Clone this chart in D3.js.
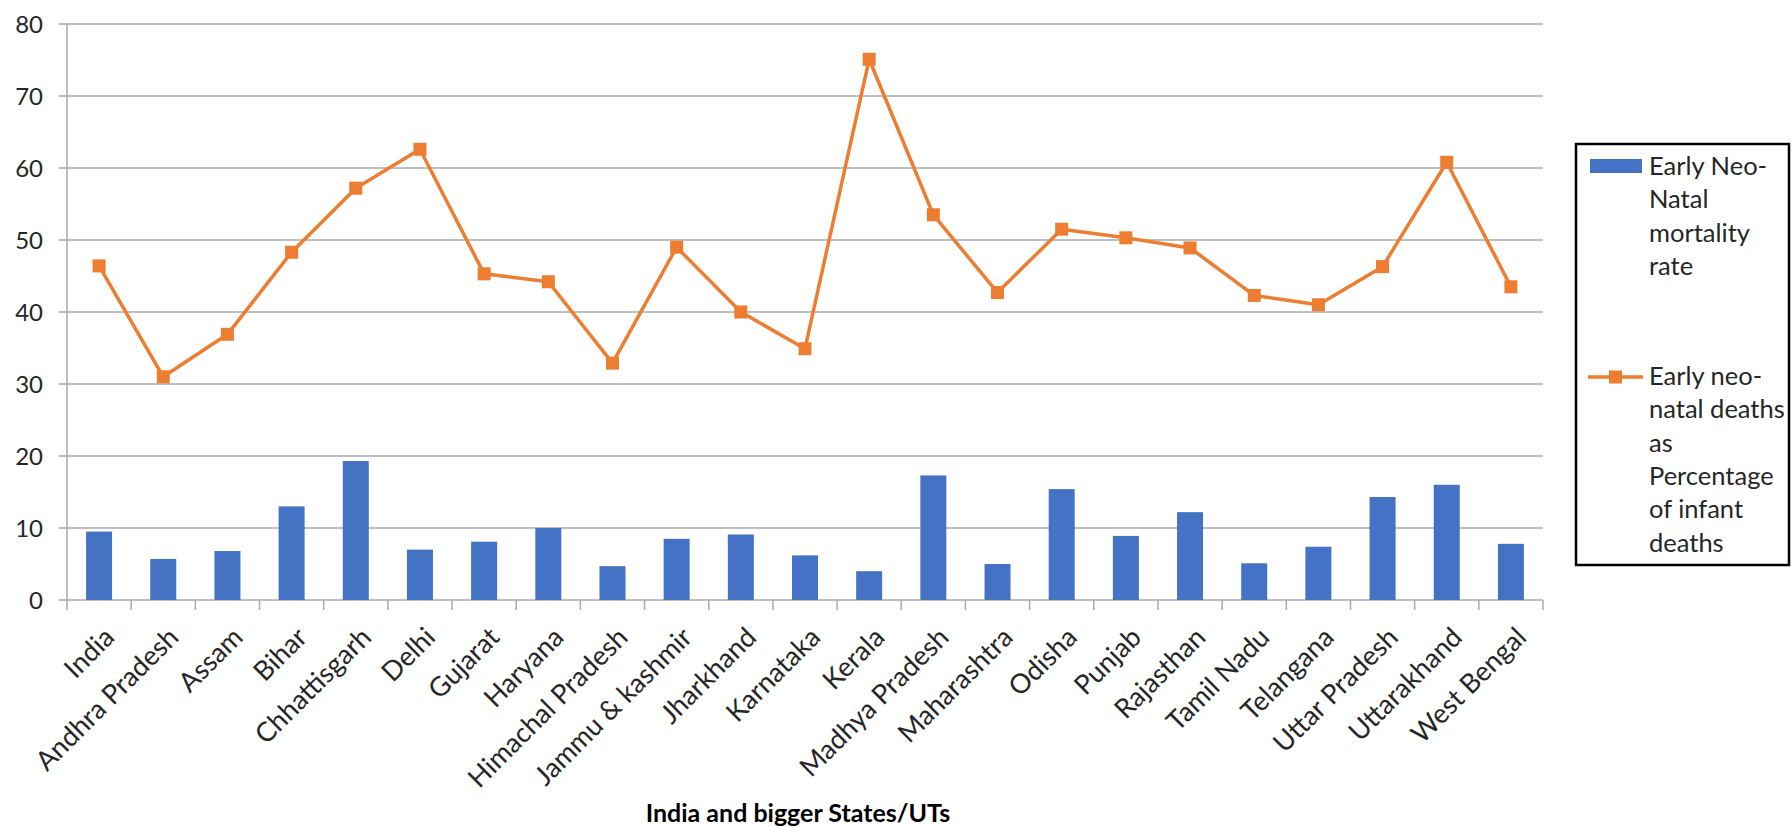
<!DOCTYPE html>
<html>
<head>
<meta charset="utf-8">
<script src="https://cdn.jsdelivr.net/npm/d3@7"></script>
<style>
  html, body { margin: 0; padding: 0; background: #fff; }
  svg { display: block; }
  text { font-family: Lato, "Open Sans", sans-serif; }
</style>
</head>
<body>
<svg id="chart" width="1792" height="827"></svg>
<script>
const categories = ["India","Andhra Pradesh","Assam","Bihar","Chhattisgarh","Delhi","Gujarat","Haryana","Himachal Pradesh","Jammu & kashmir","Jharkhand","Karnataka","Kerala","Madhya Pradesh","Maharashtra","Odisha","Punjab","Rajasthan","Tamil Nadu","Telangana","Uttar Pradesh","Uttarakhand","West Bengal"];
const enmrValues = [9.5,5.7,6.8,13.0,19.3,7.0,8.1,10.0,4.7,8.5,9.1,6.2,4.0,17.3,5.0,15.4,8.9,12.2,5.1,7.4,14.3,16.0,7.8];
const pctValues = [46.4,31.0,36.9,48.3,57.2,62.6,45.3,44.2,32.9,49.0,40.0,34.9,75.1,53.5,42.7,51.5,50.3,48.9,42.3,41.0,46.3,60.8,43.5];
const yTicks = [0,10,20,30,40,50,60,70,80];
const seriesNames = [["Early Neo-","Natal","mortality","rate"],["Early neo-","natal deaths","as","Percentage","of infant","deaths"]];
const axisTitle = "India and bigger States/UTs";

const blue = "#4472C4", orange = "#ED7D31", grid = "#ABABAB";
const svg = d3.select("#chart");
const pLeft = 67, pRight = 1543, pTop = 24, pBottom = 600;

const x = d3.scaleBand().domain(categories).range([pLeft, pRight]).paddingInner(0).paddingOuter(0);
const y = d3.scaleLinear().domain([0, 80]).range([pBottom, pTop]);

// gridlines
svg.append("g").selectAll("line").data(yTicks).join("line")
  .attr("x1", pLeft - 8).attr("x2", pRight)
  .attr("y1", d => y(d)).attr("y2", d => y(d))
  .attr("stroke", grid).attr("stroke-width", 1.5);

// y axis line
svg.append("line").attr("x1", pLeft).attr("x2", pLeft).attr("y1", pTop).attr("y2", pBottom)
  .attr("stroke", grid).attr("stroke-width", 1.5);

// y tick labels
svg.append("g").selectAll("text").data(yTicks).join("text")
  .attr("x", pLeft - 24).attr("y", d => y(d)).attr("dy", "0.36em")
  .attr("text-anchor", "end").attr("font-size", 24).attr("fill", "#262626")
  .text(d => d);

// x ticks
const xTickPos = categories.map(c => x(c)).concat([pRight]);
svg.append("g").selectAll("line").data(xTickPos).join("line")
  .attr("x1", d => d).attr("x2", d => d).attr("y1", pBottom).attr("y2", pBottom + 10)
  .attr("stroke", grid).attr("stroke-width", 1.5);

// bars
const bw = 26;
svg.append("g").selectAll("rect").data(categories).join("rect")
  .attr("x", (d) => x(d) + x.bandwidth() / 2 - bw / 2)
  .attr("width", bw)
  .attr("y", (d, i) => y(enmrValues[i]))
  .attr("height", (d, i) => y(0) - y(enmrValues[i]))
  .attr("fill", blue);

// line
const line = d3.line().x((d, i) => x(categories[i]) + x.bandwidth() / 2).y(d => y(d));
svg.append("path").datum(pctValues).attr("d", line)
  .attr("fill", "none").attr("stroke", orange).attr("stroke-width", 3.5).attr("stroke-linejoin", "round");
const ms = 13;
svg.append("g").selectAll("rect").data(pctValues).join("rect")
  .attr("x", (d, i) => x(categories[i]) + x.bandwidth() / 2 - ms / 2)
  .attr("y", d => y(d) - ms / 2)
  .attr("width", ms).attr("height", ms).attr("fill", orange);

// category labels
svg.append("g").selectAll("text").data(categories).join("text")
  .attr("transform", d => `translate(${x(d) + x.bandwidth() / 2 + 17},${pBottom + 39}) rotate(-45)`)
  .attr("text-anchor", "end").attr("font-size", 27).attr("fill", "#262626")
  .text(d => d);

// axis title
svg.append("text").attr("x", 798).attr("y", 822).attr("text-anchor", "middle")
  .attr("font-size", 25).attr("font-weight", "bold").attr("fill", "#000")
  .text(axisTitle);

// legend
const lg = svg.append("g");
lg.append("rect").attr("x", 1576).attr("y", 144).attr("width", 213).attr("height", 421)
  .attr("fill", "#fff").attr("stroke", "#000").attr("stroke-width", 2.5);
lg.append("rect").attr("x", 1590).attr("y", 159).attr("width", 52).attr("height", 14).attr("fill", blue);
lg.append("line").attr("x1", 1588).attr("x2", 1643).attr("y1", 377).attr("y2", 377)
  .attr("stroke", orange).attr("stroke-width", 3.5);
lg.append("rect").attr("x", 1609).attr("y", 370.5).attr("width", 13).attr("height", 13).attr("fill", orange);
const baselines = [175, 385];
seriesNames.forEach((lines, s) => {
  lg.append("g").selectAll("text").data(lines).join("text")
    .attr("x", 1649).attr("y", (d, i) => baselines[s] + i * 33.3)
    .attr("font-size", 25.5).attr("fill", "#262626").text(d => d);
});
</script>
</body>
</html>
